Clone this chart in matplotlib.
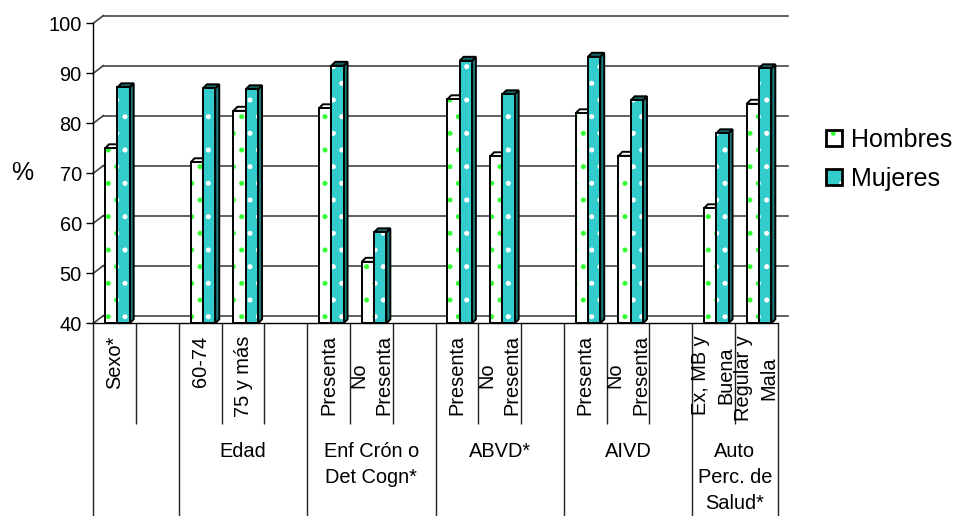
import matplotlib
matplotlib.use('Agg')
import matplotlib.pyplot as plt
from matplotlib.patches import Rectangle, Polygon, Patch
from matplotlib.legend_handler import HandlerTuple

plt.rcParams['font.family'] = ['Liberation Sans', 'DejaVu Sans']
plt.rcParams['hatch.linewidth'] = 1.2

# data (% by sex)
group_names = ['', 'Edad', 'Enf Crón o\nDet Cogn*', 'ABVD*', 'AIVD', 'Auto\nPerc. de\nSalud*']
group_items = [['Sexo*'],
               ['60-74', '75 y más'],
               ['Presenta', 'No\nPresenta'],
               ['Presenta', 'No\nPresenta'],
               ['Presenta', 'No\nPresenta'],
               ['Ex, MB y\nBuena', 'Regular y\nMala']]
hombres = [75.0, 72.2, 82.5, 83.0, 52.3, 84.8, 73.4, 82.0, 73.5, 63.0, 83.9]
mujeres = [87.2, 87.0, 86.8, 91.5, 58.2, 92.5, 85.8, 93.3, 84.6, 78.0, 91.0]
series_names = ['Hombres', 'Mujeres']
yticks = [40, 50, 60, 70, 80, 90, 100]

# layout (pixels of the 959x516 picture)
W, H = 959, 516
left_px, right_px, top_px, base_px = 93.3, 777.7, 23.3, 323.3

# slot positions: one empty slot after every group except the last
slots, bounds, labels = [], [0], []
pos = 0
for gi, items in enumerate(group_items):
    for it in items:
        slots.append(pos)
        labels.append(it)
        pos += 1
    if gi < len(group_items) - 1:
        pos += 1
    bounds.append(pos)
n_slots = pos

ymin, ymax = yticks[0], yticks[-1]
sx = n_slots / (right_px - left_px)      # data units per px
sy = (ymax - ymin) / (base_px - top_px)

back_dx, back_dy = 10 * sx, 7.7 * sy    # wall depth
bar_dx, bar_dy = 4 * sx, 4 * sy         # bar depth
bar_off, bar_w = 11.8 * sx, 12.3 * sx

teal = '#33CCCC'
teal_side = '#1d7a7a'
teal_cap = '#176464'
green = '#33ff33'
grid_c = '#444444'
lw = 1.4

fig = plt.figure(figsize=(W / 100, H / 100), dpi=100)
ax = fig.add_axes([left_px / W, 1 - base_px / H, (right_px - left_px) / W, (base_px - top_px) / H])
ax.set_xlim(0, n_slots)
ax.set_ylim(ymin, ymax)

# walls / gridlines
for v in yticks:
    ax.plot([back_dx, n_slots + back_dx], [v + back_dy, v + back_dy], color=grid_c, lw=1.2,
            clip_on=False, zorder=1)
    ax.plot([0, back_dx], [v, v + back_dy], color=grid_c, lw=1.2, clip_on=False, zorder=1)


def bar3d(x0, top, face, side, cap, dot, z):
    ax.add_patch(Polygon([(x0 + bar_w, ymin), (x0 + bar_w + bar_dx, ymin + bar_dy),
                          (x0 + bar_w + bar_dx, top + bar_dy), (x0 + bar_w, top)],
                         closed=True, fc=side, ec='black', lw=lw, zorder=z, clip_on=False))
    ax.add_patch(Polygon([(x0, top), (x0 + bar_dx, top + bar_dy),
                          (x0 + bar_w + bar_dx, top + bar_dy), (x0 + bar_w, top)],
                         closed=True, fc=cap, ec='black', lw=lw, zorder=z, clip_on=False))
    ax.add_patch(Rectangle((x0, ymin), bar_w, top - ymin, fc=face, ec=dot, lw=0,
                           hatch='.', zorder=z))
    ax.add_patch(Rectangle((x0, ymin), bar_w, top - ymin, fc='none', ec='black', lw=lw,
                           zorder=z + 0.1))


z = 3
for s, h, m in zip(slots, hombres, mujeres):
    x0 = s + bar_off
    bar3d(x0, h, 'white', 'white', 'white', green, z)
    bar3d(x0 + bar_w, m, teal, teal_side, teal_cap, 'white', z + 0.5)
    z += 1

for sp in ['top', 'right']:
    ax.spines[sp].set_visible(False)
ax.spines['left'].set_color('black')
ax.spines['bottom'].set_color('black')
ax.spines['left'].set_linewidth(1)
ax.spines['bottom'].set_linewidth(1)
ax.set_xticks([])
ax.set_yticks(yticks)
ax.tick_params(axis='y', length=5, width=1, pad=3.3, labelsize=14.4)
ax.set_ylabel('%', rotation=0, fontsize=18, va='center', ha='center')
ax.yaxis.set_label_coords((22 - left_px) / (right_px - left_px), (base_px - 173) / (base_px - top_px))

# category table under the axis
tab_h = H - base_px
ax2 = fig.add_axes([left_px / W, 0, (right_px - left_px) / W, tab_h / H])
ax2.set_xlim(0, n_slots)
ax2.set_ylim(tab_h, 0)
ax2.axis('off')
short = [b for b in range(1, n_slots) if b not in bounds]
ax2.vlines(bounds, 0, tab_h, color='#222222', lw=1, clip_on=False)
ax2.vlines(short, 0, 101, color='#222222', lw=1, clip_on=False)

for s, lab in zip(slots, labels):
    ax2.text(s + 0.5, 12, lab, rotation=90, ha='center', va='top', multialignment='center',
             fontsize=14.4, linespacing=1.42)
for gi, name in enumerate(group_names):
    if name:
        ax2.text((bounds[gi] + bounds[gi + 1]) / 2, 119, name, ha='center', va='top',
                 multialignment='center', fontsize=14.4, linespacing=1.45)

# legend
handles = [(Patch(fc='white', ec=green, lw=0, hatch='.'), Patch(fc='none', ec='black', lw=2)),
           (Patch(fc=teal, ec='white', lw=0, hatch='.'), Patch(fc='none', ec='black', lw=2))]
fig.legend(handles, series_names, handler_map={tuple: HandlerTuple(ndivide=1, pad=0)},
           loc='upper left', bbox_to_anchor=(825.7 / W, 1 - 128 / H), frameon=False,
           fontsize=18, handlelength=0.64, handleheight=0.64, handletextpad=0.36,
           labelspacing=0.6, borderpad=0, borderaxespad=0)

fig.savefig('out.png', dpi=100)
